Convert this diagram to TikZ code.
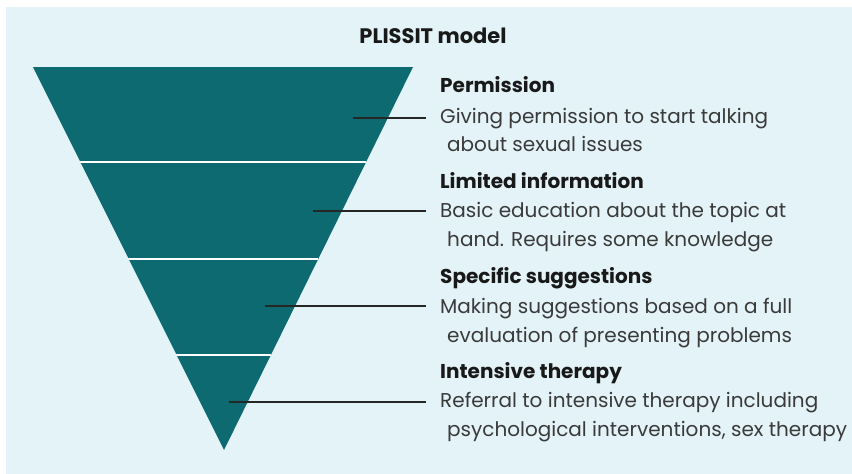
\documentclass[tikz,border=0pt]{standalone}
\usepackage{fontspec}
\setmainfont{Poppins}
\definecolor{bgblue}{HTML}{E3F3F7}
\definecolor{teal}{HTML}{0D6A70}
\definecolor{txt}{HTML}{3A3A3A}
\begin{document}
\begin{tikzpicture}[x=1pt,y=-1pt,
  head/.style={anchor=base west,font=\bfseries\fontsize{20}{24}\selectfont,text=black!90,inner sep=0},
  body/.style={anchor=base west,font=\fontsize{20}{24}\selectfont,text=txt,inner sep=0},
  lead/.style={draw=black!85,line width=1.2pt},
  divider/.style={draw=white,line width=2pt}]
\useasboundingbox (0,0) rectangle (852,474);
\fill[white] (0,0) rectangle (852,474);
\fill[bgblue] (6,7) rectangle (852,474);
\node[anchor=base,font=\bfseries\fontsize{21}{25}\selectfont,inner sep=0,text=black!90] (title) at (433,43) {PLISSIT model};
\fill[teal] (33,67) -- (413,67) -- (224,450) -- cycle;
\draw[divider] (80,162) -- (366,162);
\draw[divider] (128,259) -- (318,259);
\draw[divider] (176,355) -- (271,355);
\coordinate (p1) at (353,118); \coordinate (q1) at (426,118);
\coordinate (p2) at (313,211); \coordinate (q2) at (426,211);
\coordinate (p3) at (265,306); \coordinate (q3) at (426,306);
\coordinate (p4) at (229,402); \coordinate (q4) at (426,402);
\draw[lead] (p1) -- (q1);
\draw[lead] (p2) -- (q2);
\draw[lead] (p3) -- (q3);
\draw[lead] (p4) -- (q4);
\node[head] (h1) at (440,92) {Permission};
\node[body] (b1a) at (440,123) {Giving permission to start talking};
\node[body] (b1b) at (447,151) {about sexual issues};
\node[head] (h2) at (440,188) {Limited information};
\node[body] (b2a) at (440,217) {Basic education about the topic at};
\node[body] (b2b) at (447,246) {hand. Requires some knowledge};
\node[head] (h3) at (440,283) {Specific suggestions};
\node[body] (b3a) at (440,313) {Making suggestions based on a full};
\node[body] (b3b) at (447,342) {evaluation of presenting problems};
\node[head] (h4) at (440,378) {Intensive therapy};
\node[body] (b4a) at (440,407) {Referral to intensive therapy including};
\node[body] (b4b) at (447,436) {psychological interventions, sex therapy};
\end{tikzpicture}
\end{document}
